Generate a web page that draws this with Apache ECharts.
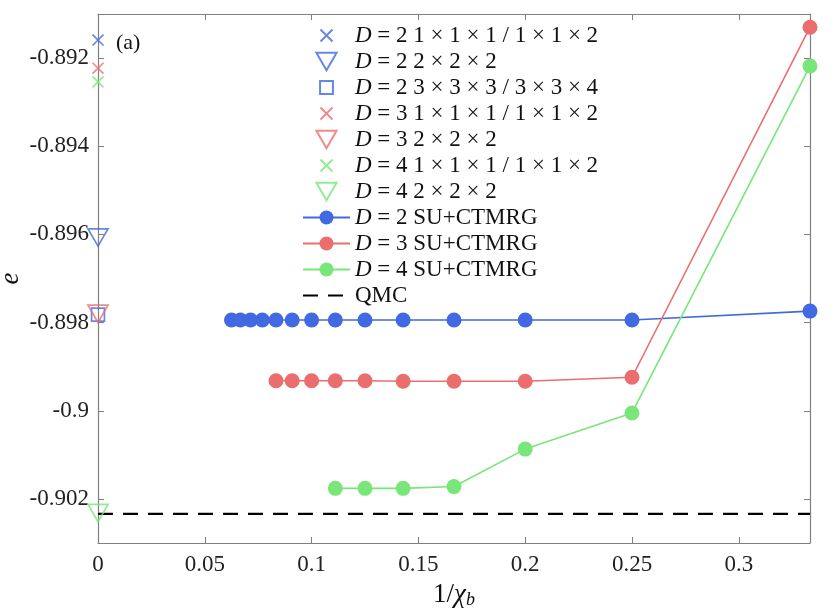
<!DOCTYPE html>
<html>
<head>
<meta charset="utf-8">
<script src="https://cdn.jsdelivr.net/npm/echarts@6/dist/echarts.min.js"></script>
<style>
  html, body { margin: 0; padding: 0; background: #fff; }
  #main { width: 831px; height: 611px; }
</style>
</head>
<body>
<div id="main"></div>
<script>
// 数据：键维 chi 与能量 e
var chiD2 = [16, 15, 14, 13, 12, 11, 10, 9, 8, 7, 6, 5, 4, 3];
var eD2 = [-0.89794, -0.89794, -0.89794, -0.89794, -0.89794, -0.89794, -0.89794, -0.89794, -0.89794, -0.89794, -0.89794, -0.89794, -0.89794, -0.89774];
var chiD3 = [12, 11, 10, 9, 8, 7, 6, 5, 4, 3];
var eD3 = [-0.89932, -0.89932, -0.89932, -0.89932, -0.89932, -0.89933, -0.89933, -0.89933, -0.89924, -0.89130];
var chiD4 = [9, 8, 7, 6, 5, 4, 3];
var eD4 = [-0.90176, -0.90176, -0.90176, -0.90172, -0.90087, -0.90005, -0.89218];

// x = 0 处的外推点
var crossD2 = -0.89159;
var triD2 = -0.89607;
var squareD2 = -0.89782;
var crossD3 = -0.89223;
var triD3 = -0.89780;
var crossD4 = -0.89254;
var triD4 = -0.90232;
var qmc = -0.90234;

var xTicks = [0, 0.05, 0.1, 0.15, 0.2, 0.25, 0.3];
var yTicks = [-0.902, -0.9, -0.898, -0.896, -0.894, -0.892];

var blue = '#4169e1';
var red = '#eb6e6e';
var green = '#78e678';
var axisColor = '#808080';
var font = 'Liberation Serif';

// 图标四周留白（零长度线段只撑开包围盒），让图例里的符号不被拉满
var crossPath = 'path://M-2.3,-2.3L-2.3,-2.3M12.3,12.3L12.3,12.3M0,0L10,10M10,0L0,10';
var squarePath = 'path://M-1.8,-1.8L-1.8,-1.8M11.8,11.8L11.8,11.8M0,0L10,0L10,10L0,10Z';
var triPath = 'path://M0,0L12,0L6,10.4Z';

function toPoints(chi, e) {
    var pts = [];
    for (var i = 0; i < chi.length; i++) {
        pts.push([1 / chi[i], e[i]]);
    }
    return pts;
}

function markerSeries(name, symbol, size, color, value) {
    return {
        name: name,
        type: 'scatter',
        symbol: symbol,
        symbolSize: size,
        symbolKeepAspect: true,
        clip: false,
        itemStyle: { color: 'rgba(0,0,0,0)', borderColor: color, borderWidth: 1.7 },
        data: [[0, value]],
        z: 5
    };
}

function lineSeries(name, color, pts) {
    return {
        name: name,
        type: 'line',
        symbol: 'circle',
        symbolSize: 15,
        clip: false,
        lineStyle: { color: color, width: 1.6 },
        itemStyle: { color: color },
        data: pts,
        z: 4
    };
}

var names = [
    'D = 2 1 × 1 × 1 / 1 × 1 × 2',
    'D = 2 2 × 2 × 2',
    'D = 2 3 × 3 × 3 / 3 × 3 × 4',
    'D = 3 1 × 1 × 1 / 1 × 1 × 2',
    'D = 3 2 × 2 × 2',
    'D = 4 1 × 1 × 1 / 1 × 1 × 2',
    'D = 4 2 × 2 × 2',
    'D = 2 SU+CTMRG',
    'D = 3 SU+CTMRG',
    'D = 4 SU+CTMRG',
    'QMC'
];

var legendData = names.map(function (n) {
    if (n == 'QMC') {
        return { name: n, itemStyle: { opacity: 0 } };
    }
    return { name: n };
});

var chart = echarts.init(document.getElementById('main'));

var option = {
    animation: false,
    textStyle: { fontFamily: font },
    grid: { left: 98, right: 21, top: 14, bottom: 68, outerBoundsMode: 'none' },
    title: {
        text: '(a)',
        left: 111,
        top: 27,
        textStyle: { fontFamily: font, fontSize: 22, fontWeight: 'normal', color: '#111' }
    },
    legend: {
        orient: 'vertical',
        left: 297,
        top: 19,
        itemWidth: 47,
        itemHeight: 17.5,
        itemGap: 3,
        data: legendData,
        textStyle: {
            fontFamily: font,
            fontSize: 23,
            color: '#111',
            lineHeight: 21,
            rich: {
                i: { fontFamily: font, fontStyle: 'italic', fontSize: 23, color: '#111' }
            }
        },
        formatter: function (name) {
            return name.replace(/^D/, '{i|D}');
        }
    },
    xAxis: [{
        type: 'value',
        min: 0,
        max: 1 / 3,
        name: '{n|1/}{i|χ}{s|b}',
        nameLocation: 'middle',
        nameGap: 38,
        nameTextStyle: {
            rich: {
                n: { fontFamily: font, fontSize: 27, color: '#111' },
                i: { fontFamily: font, fontSize: 27, fontStyle: 'italic', color: '#111' },
                s: { fontFamily: font, fontSize: 18, fontStyle: 'italic', color: '#111', padding: [10, 0, 0, 0] }
            }
        },
        axisLine: { show: true, onZero: false, lineStyle: { color: axisColor, width: 1.2 } },
        axisTick: { show: true, inside: true, length: 6, customValues: xTicks, lineStyle: { color: axisColor } },
        axisLabel: {
            customValues: xTicks,
            fontFamily: font,
            fontSize: 23,
            color: '#222',
            margin: 10,
            formatter: function (v) { return String(Number(v.toFixed(2))); }
        },
        splitLine: { show: false }
    }, {
        type: 'value',
        position: 'top',
        min: 0,
        max: 1 / 3,
        axisLine: { show: true, onZero: false, lineStyle: { color: axisColor, width: 1.2 } },
        axisTick: { show: true, inside: true, length: 6, customValues: xTicks, lineStyle: { color: axisColor } },
        axisLabel: { show: false },
        splitLine: { show: false }
    }],
    yAxis: [{
        type: 'value',
        min: -0.903,
        max: -0.891,
        name: 'e',
        nameLocation: 'middle',
        nameRotate: 90,
        nameGap: 74,
        nameMoveOverlap: false,
        nameTextStyle: { fontFamily: font, fontSize: 27, fontStyle: 'italic', color: '#111' },
        axisLine: { show: true, onZero: false, lineStyle: { color: axisColor, width: 1.2 } },
        axisTick: { show: true, inside: true, length: 6, customValues: yTicks, lineStyle: { color: axisColor } },
        axisLabel: {
            customValues: yTicks,
            fontFamily: font,
            fontSize: 23,
            color: '#222',
            margin: 9,
            formatter: function (v) { return String(Number(v.toFixed(3))); }
        },
        splitLine: { show: false }
    }, {
        type: 'value',
        position: 'right',
        min: -0.903,
        max: -0.891,
        axisLine: { show: true, onZero: false, lineStyle: { color: axisColor, width: 1.2 } },
        axisTick: { show: true, inside: true, length: 6, customValues: yTicks, lineStyle: { color: axisColor } },
        axisLabel: { show: false },
        splitLine: { show: false }
    }],
    series: [
        markerSeries(names[0], crossPath, 16, blue, crossD2),
        markerSeries(names[1], triPath, 20, blue, triD2),
        markerSeries(names[2], squarePath, 17.5, blue, squareD2),
        markerSeries(names[3], crossPath, 16, red, crossD3),
        markerSeries(names[4], triPath, 20, red, triD3),
        markerSeries(names[5], crossPath, 16, green, crossD4),
        markerSeries(names[6], triPath, 20, green, triD4),
        lineSeries(names[7], blue, toPoints(chiD2, eD2)),
        lineSeries(names[8], red, toPoints(chiD3, eD3)),
        lineSeries(names[9], green, toPoints(chiD4, eD4)),
        {
            name: names[10],
            type: 'line',
            symbol: 'none',
            clip: false,
            lineStyle: { color: '#000', width: 2.2, type: [15, 10] },
            itemStyle: { color: '#000' },
            data: [[0, qmc], [1 / 3, qmc]],
            z: 3
        }
    ]
};

chart.setOption(option);
</script>
</body>
</html>
